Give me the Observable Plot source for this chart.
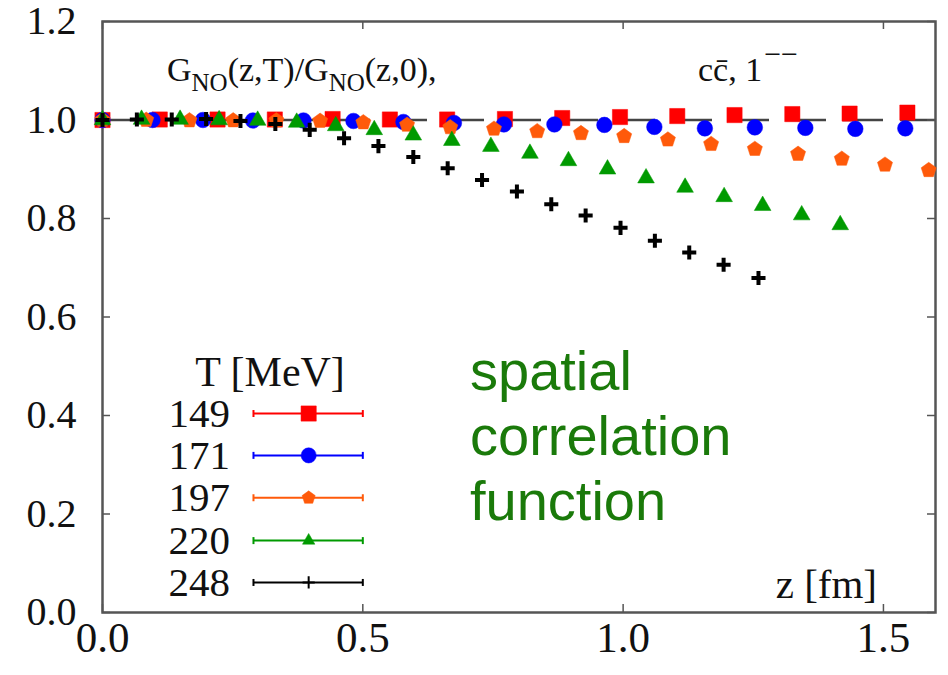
<!DOCTYPE html>
<html><head><meta charset="utf-8">
<script src="https://cdn.jsdelivr.net/npm/d3@7"></script>
<script src="https://cdn.jsdelivr.net/npm/@observablehq/plot@0.6"></script>
<style>
html,body{margin:0;padding:0;background:#fff;}
#chart{width:948px;height:675px;position:relative;}
</style></head><body><div id="chart"></div>
<script>
// ---- data ----
const temps = ["149", "171", "197", "220", "248"];
const colors = ["#ff0000", "#0000ff", "#ff5a0a", "#009a00", "#000000"];
const xTicks = [0.0, 0.5, 1.0, 1.5];
const yTicks = [0.0, 0.2, 0.4, 0.6, 0.8, 1.0, 1.2];

const z149 = [0, 0.110, 0.221, 0.331, 0.442, 0.552, 0.662, 0.773, 0.883, 0.994, 1.104, 1.214, 1.325, 1.435, 1.546];
const g149 = [1.000, 1.001, 1.001, 1.001, 1.002, 1.001, 1.001, 1.002, 1.004, 1.006, 1.008, 1.010, 1.012, 1.013, 1.015];

const z171 = [0, 0.096, 0.193, 0.289, 0.386, 0.482, 0.578, 0.675, 0.771, 0.868, 0.964, 1.060, 1.157, 1.253, 1.350, 1.446, 1.542];
const g171 = [1.000, 1.000, 1.000, 0.999, 0.999, 0.998, 0.996, 0.994, 0.991, 0.991, 0.990, 0.986, 0.983, 0.985, 0.984, 0.982, 0.983];

const z197 = [0, 0.084, 0.167, 0.251, 0.334, 0.418, 0.501, 0.585, 0.668, 0.752, 0.835, 0.919, 1.002, 1.086, 1.169, 1.253, 1.336, 1.420, 1.503, 1.587];
const g197 = [1.000, 1.000, 0.999, 0.999, 0.999, 0.998, 0.995, 0.990, 0.985, 0.982, 0.977, 0.973, 0.967, 0.960, 0.951, 0.941, 0.931, 0.921, 0.909, 0.898];

const z220 = [0, 0.075, 0.149, 0.224, 0.298, 0.373, 0.448, 0.522, 0.597, 0.671, 0.746, 0.821, 0.895, 0.970, 1.044, 1.119, 1.194, 1.268, 1.343, 1.417];
const g220 = [1.000, 1.001, 1.001, 1.000, 0.999, 0.995, 0.988, 0.980, 0.969, 0.958, 0.946, 0.932, 0.917, 0.900, 0.882, 0.863, 0.844, 0.826, 0.807, 0.787];

const z248 = [0, 0.066, 0.133, 0.199, 0.265, 0.332, 0.398, 0.464, 0.530, 0.597, 0.663, 0.729, 0.796, 0.862, 0.928, 0.995, 1.061, 1.127, 1.193, 1.260];
const g248 = [1.000, 1.001, 1.001, 1.002, 0.998, 0.992, 0.980, 0.963, 0.947, 0.925, 0.902, 0.878, 0.855, 0.829, 0.806, 0.781, 0.755, 0.731, 0.706, 0.679];

const zs = [z149, z171, z197, z220, z248];
const gs = [g149, g171, g197, g220, g248];

// ---- symbols ----
const pentagon = {
  draw(ctx, size) {
    const r = Math.sqrt(size / 2.378);
    for (let i = 0; i < 5; i++) {
      const a = -Math.PI / 2 + i * 2 * Math.PI / 5;
      const px = r * Math.cos(a), py = r * Math.sin(a);
      if (i === 0) ctx.moveTo(px, py); else ctx.lineTo(px, py);
    }
    ctx.closePath();
  }
};
const vbar = {
  draw(ctx, size) {
    const r = Math.sqrt(size / Math.PI);
    ctx.moveTo(0, -r); ctx.lineTo(0, r);
  }
};
const markerSymbols = ["square", "circle", pentagon, "triangle", "plus"];
const markerR = [8.6, 7.8, 6.9, 6.2, 4.6];
const legendR = [8.6, 7.6, 6.0, 4.6, 4.0];

// ---- legend layout (data units) ----
const legX1 = 0.29, legX2 = 0.50, legXm = 0.396, legXlabel = 0.245;
const legRows = [0.404, 0.319, 0.233, 0.146, 0.061];

const W = 948, H = 675;
const mL = 102, mR = 13, mT = 21, mB = 63;
const fw = W - mL - mR, fh = H - mT - mB;
const fmt = d3.format(".1f");
const axisColor = "#555";

const marks = [
  Plot.ruleY([1.0], {stroke: "#444", strokeWidth: 2.5, strokeDasharray: "40,17"}),
  // inward tick marks on all four sides
  Plot.tickX(xTicks, {x: d => d, insetTop: fh - 8, stroke: axisColor, strokeWidth: 1.5}),
  Plot.tickX(xTicks, {x: d => d, insetBottom: fh - 8, stroke: axisColor, strokeWidth: 1.5}),
  Plot.tickY(yTicks, {y: d => d, insetRight: fw - 8, stroke: axisColor, strokeWidth: 1.5}),
  Plot.tickY(yTicks, {y: d => d, insetLeft: fw - 8, stroke: axisColor, strokeWidth: 1.5}),
  Plot.axisX({ticks: xTicks, tickFormat: fmt, tickSize: 0, tickPadding: 9, label: null, fontSize: 43}),
  Plot.axisY({ticks: yTicks, tickFormat: fmt, tickSize: 0, tickPadding: 26, label: null, fontSize: 40}),
  Plot.frame({stroke: axisColor, strokeWidth: 2.5})
];

temps.forEach((t, i) => {
  const rows = zs[i].map((z, j) => ({z, g: gs[i][j]}));
  const sym = markerSymbols[i];
  const isPlus = sym === "plus";
  marks.push(Plot.dot(rows, {
    x: "z", y: "g", symbol: () => sym, r: markerR[i],
    fill: isPlus ? "none" : colors[i], stroke: colors[i], strokeWidth: isPlus ? 4 : 0.5
  }));
  // legend entry
  const leg = [{x1: legX1, x2: legX2, xm: legXm, xl: legXlabel, y: legRows[i], t}];
  marks.push(Plot.ruleY(leg, {x1: "x1", x2: "x2", y: "y", stroke: colors[i], strokeWidth: 2}));
  marks.push(Plot.dot(leg, {x: "x1", y: "y", symbol: () => vbar, r: 3.5, stroke: colors[i], strokeWidth: 2}));
  marks.push(Plot.dot(leg, {x: "x2", y: "y", symbol: () => vbar, r: 3.5, stroke: colors[i], strokeWidth: 2}));
  marks.push(Plot.dot(leg, {
    x: "xm", y: "y", symbol: () => sym, r: legendR[i],
    fill: isPlus ? "none" : colors[i], stroke: colors[i], strokeWidth: isPlus ? 2 : 0.5
  }));
  marks.push(Plot.text(leg, {x: "xl", y: "y", text: "t", textAnchor: "end", fontSize: 41, fill: "#111"}));
});

const plot = Plot.plot({
  width: W, height: H,
  marginLeft: mL, marginRight: mR, marginTop: mT, marginBottom: mB,
  style: {fontFamily: "'Liberation Serif', 'DejaVu Serif', serif", color: "#111", background: "white", overflow: "visible"},
  x: {domain: [0, 1.6]},
  y: {domain: [0, 1.2]},
  marks
});
document.getElementById("chart").appendChild(plot);

// ---- annotations ----
const svg = d3.select(plot);
const serif = "'Liberation Serif', serif";
const title = svg.append("text").attr("x", 167).attr("y", 81).attr("text-anchor", "start")
  .attr("font-family", serif).attr("font-size", 34).attr("fill", "#111");
title.append("tspan").text("G");
title.append("tspan").attr("dy", 10).attr("font-size", 25).text("NO");
title.append("tspan").attr("dy", -10).text("(z,T)/G");
title.append("tspan").attr("dy", 10).attr("font-size", 25).text("NO");
title.append("tspan").attr("dy", -10).text("(z,0),");

const t2 = svg.append("text").attr("x", 698).attr("y", 81).attr("text-anchor", "start")
  .attr("font-family", serif).attr("font-size", 34).attr("fill", "#111");
t2.append("tspan").text("c\u0063\u0304, 1");
t2.append("tspan").attr("dy", -17).attr("dx", 2).attr("font-size", 30).text("\u2212\u2212");

svg.append("text").attr("x", 270).attr("y", 386).attr("text-anchor", "middle")
  .attr("font-family", serif).attr("font-size", 42).attr("fill", "#111").text("T [MeV]");

svg.append("text").attr("x", 877).attr("y", 598).attr("text-anchor", "end")
  .attr("font-family", serif).attr("font-size", 41).attr("fill", "#111").text("z [fm]");

const green = svg.append("text").attr("text-anchor", "start")
  .attr("font-family", "'Liberation Sans', Arial, sans-serif")
  .attr("font-size", 56).attr("fill", "#1a7a0a");
["spatial", "correlation", "function"].forEach((s, i) => {
  green.append("tspan").attr("x", 470).attr("y", 390 + i * 65).text(s);
});
</script></body></html>
